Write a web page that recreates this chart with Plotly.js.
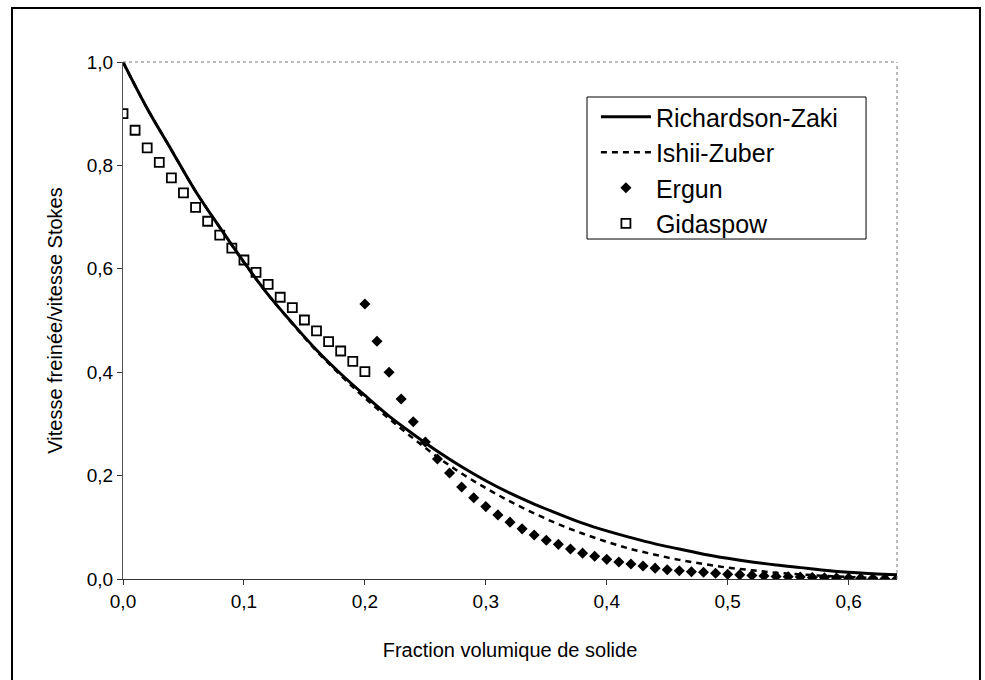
<!DOCTYPE html>
<html>
<head>
<meta charset="utf-8">
<script src="https://cdn.plot.ly/plotly-3.0.1.min.js"></script>
<style>html,body{margin:0;padding:0;background:#fff;}#chart{width:985px;height:680px;}</style>
</head>
<body>
<div id="chart"></div>
<script>
// Curves
const curveX = [0, 0.02, 0.04, 0.06, 0.08, 0.10, 0.12, 0.14, 0.16, 0.18, 0.20, 0.22, 0.24, 0.26, 0.28, 0.30, 0.32, 0.34, 0.36, 0.38, 0.40, 0.42, 0.44, 0.46, 0.48, 0.50, 0.52, 0.54, 0.56, 0.58, 0.60, 0.62, 0.64];
const richardsonZaki = [1.00, 0.91, 0.83, 0.75, 0.68, 0.613, 0.55, 0.495, 0.443, 0.397, 0.355, 0.315, 0.28, 0.247, 0.217, 0.19, 0.166, 0.145, 0.126, 0.108, 0.093, 0.080, 0.068, 0.058, 0.048, 0.040, 0.033, 0.027, 0.022, 0.017, 0.013, 0.010, 0.008];
const ishiiZuber     = [1.00, 0.91, 0.83, 0.75, 0.68, 0.612, 0.55, 0.494, 0.441, 0.394, 0.350, 0.310, 0.272, 0.236, 0.204, 0.176, 0.150, 0.127, 0.106, 0.088, 0.072, 0.058, 0.047, 0.037, 0.029, 0.022, 0.017, 0.012, 0.009, 0.006, 0.004, 0.002, 0.001];

// Ergun points
const ergunX = [0.20, 0.21, 0.22, 0.23, 0.24, 0.25, 0.26, 0.27, 0.28, 0.29, 0.30, 0.31, 0.32, 0.33, 0.34, 0.35, 0.36, 0.37, 0.38, 0.39, 0.40, 0.41, 0.42, 0.43, 0.44, 0.45, 0.46, 0.47, 0.48, 0.49, 0.50, 0.51, 0.52, 0.53, 0.54, 0.55, 0.56, 0.57, 0.58, 0.59, 0.60, 0.61, 0.62, 0.63, 0.64];
const ergunY = [0.532, 0.460, 0.400, 0.348, 0.304, 0.265, 0.232, 0.205, 0.178, 0.157, 0.140, 0.124, 0.110, 0.097, 0.085, 0.075, 0.067, 0.058, 0.050, 0.044, 0.038, 0.033, 0.029, 0.025, 0.021, 0.018, 0.016, 0.014, 0.013, 0.011, 0.009, 0.008, 0.007, 0.006, 0.005, 0.0045, 0.004, 0.003, 0.0025, 0.002, 0.0017, 0.0013, 0.001, 0.0007, 0.0004];

// Gidaspow points
const gidaspowX = [0.00, 0.01, 0.02, 0.03, 0.04, 0.05, 0.06, 0.07, 0.08, 0.09, 0.10, 0.11, 0.12, 0.13, 0.14, 0.15, 0.16, 0.17, 0.18, 0.19, 0.20];
const gidaspowY = [0.900, 0.868, 0.834, 0.806, 0.776, 0.747, 0.719, 0.692, 0.665, 0.640, 0.617, 0.593, 0.570, 0.545, 0.525, 0.501, 0.480, 0.459, 0.441, 0.421, 0.401];

const seriesNames = ["Richardson-Zaki", "Ishii-Zuber", "Ergun", "Gidaspow"];
const xTickVals = [0, 0.1, 0.2, 0.3, 0.4, 0.5, 0.6];
const yTickVals = [0, 0.2, 0.4, 0.6, 0.8, 1.0];
const xTitle = "Fraction volumique de solide";
const yTitle = "Vitesse freinée/vitesse Stokes";

const FONT = "Liberation Sans, Arial, sans-serif";

const traces = [
  {x: curveX, y: richardsonZaki, name: seriesNames[0], mode: "lines", type: "scatter",
   line: {color: "#000", width: 3, shape: "spline", smoothing: 1}},
  {x: curveX, y: ishiiZuber, name: seriesNames[1], mode: "lines", type: "scatter",
   line: {color: "#000", width: 2.5, dash: "6px,5px", shape: "spline", smoothing: 1}},
  {x: ergunX, y: ergunY, name: seriesNames[2], mode: "markers", type: "scatter",
   marker: {symbol: "diamond", size: 8.5, color: "#000"}},
  {x: gidaspowX, y: gidaspowY, name: seriesNames[3], mode: "markers", type: "scatter",
   marker: {symbol: "square-open", size: 9, color: "#000", line: {width: 1.8, color: "#000"}}}
];

const layout = {
  width: 985, height: 680,
  margin: {l: 123, r: 88, t: 62, b: 101},
  paper_bgcolor: "#fff", plot_bgcolor: "#fff",
  separators: ", ",
  font: {family: FONT, color: "#000", size: 19},
  showlegend: true,
  legend: {x: 0.611, y: 0.938, xanchor: "left", yanchor: "top",
           bgcolor: "rgba(0,0,0,0)", borderwidth: 0, itemwidth: 50,
           font: {family: FONT, size: 25, color: "#000"}, tracegroupgap: 0},
  xaxis: {range: [0, 0.64], tickvals: xTickVals, tickformat: ".1f",
          showgrid: false, zeroline: false, showline: true, linecolor: "#333", linewidth: 1,
          ticks: "outside", ticklen: 5, tickcolor: "#333",
          tickfont: {family: FONT, size: 19, color: "#000"},
          title: {text: xTitle, font: {family: FONT, size: 20, color: "#000"}, standoff: 32}},
  yaxis: {range: [0, 1], tickvals: yTickVals, tickformat: ".1f",
          showgrid: false, zeroline: false, showline: true, linecolor: "#555", linewidth: 1,
          ticks: "outside", ticklen: 5, tickcolor: "#333",
          tickfont: {family: FONT, size: 19, color: "#000"},
          title: {text: yTitle, font: {family: FONT, size: 20, color: "#000"}, standoff: 18}},
  shapes: [
    {type: "line", xref: "paper", yref: "paper", x0: 0, x1: 1, y0: 1, y1: 1,
     line: {color: "#777", width: 1, dash: "dot"}},
    {type: "line", xref: "paper", yref: "paper", x0: 1, x1: 1, y0: 0, y1: 1,
     line: {color: "#777", width: 1, dash: "dot"}},
    {type: "rect", xref: "paper", yref: "paper", x0: 0.5995, x1: 0.960, y0: 0.6576, y1: 0.9323,
     fillcolor: "#fff", line: {color: "#000", width: 1}, layer: "above"},
    {type: "rect", xref: "paper", yref: "paper", x0: -0.1434, x1: 1.1072, y0: -0.25, y1: 1.1044,
     line: {color: "#000", width: 2}}
  ]
};

Plotly.newPlot("chart", traces, layout, {displayModeBar: false, staticPlot: true});
</script>
</body>
</html>
